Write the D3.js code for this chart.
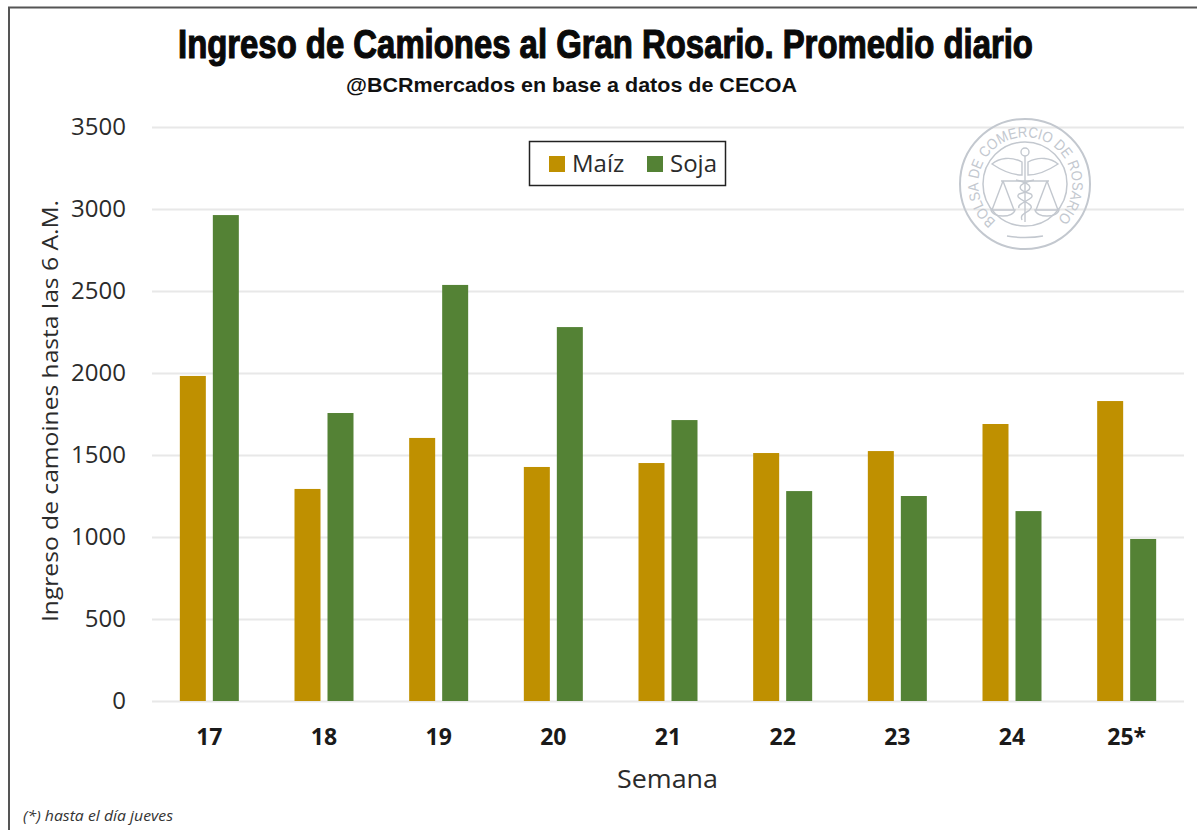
<!DOCTYPE html>
<html>
<head>
<meta charset="utf-8">
<script src="https://cdn.jsdelivr.net/npm/d3@7"></script>
<style>
  html, body { margin: 0; padding: 0; background: #fff; overflow: hidden; }
  svg { display: block; }
</style>
</head>
<body>
<div id="container"></div>
<script>
let semanas = ["17", "18", "19", "20", "21", "22", "23", "24", "25*"];
let maiz = [1982, 1293, 1604, 1427, 1451, 1512, 1524, 1689, 1829];
let soja = [2963, 1756, 2537, 2280, 1713, 1280, 1250, 1158, 988];
let yTicks = [0, 500, 1000, 1500, 2000, 2500, 3000, 3500];
let seriesNames = ["Maíz", "Soja"];
let seriesColors = ["#bf9000", "#548235"];

let w = 1197;
let h = 830;
let textFont = "'Open Sans', 'Noto Sans', sans-serif";
let textColor = "#2b2b2b";

let viz = d3.select("#container")
  .append("svg")
    .attr("width", w)
    .attr("height", h)
;

// outer frame of the pasted picture
viz.append("path")
  .attr("d", "M9,830 V7.5 H1197")
  .attr("fill", "none")
  .attr("stroke", "#555")
  .attr("stroke-width", 2)
;

let xScale = d3.scaleBand().domain(semanas).range([152, 1184]);
let yScale = d3.scaleLinear().domain([0, 3500]).range([701, 127]);

// gridlines come from the y axis, with the domain removed
let yAxis = d3.axisLeft(yScale)
  .tickValues(yTicks)
  .tickFormat(d3.format("d"))
  .tickSize(-(1184 - 152))
  .tickPadding(26)
;
let yAxisGroup = viz.append("g")
    .attr("class", "yaxisgroup")
    .attr("transform", "translate(152,0)")
    .call(yAxis)
;
yAxisGroup.select(".domain").remove();
yAxisGroup.selectAll("line").attr("stroke", "#e8e8e8").attr("stroke-width", 2);
yAxisGroup.selectAll("text")
  .attr("font-family", textFont)
  .attr("font-size", 24)
  .attr("fill", textColor)
;

let xAxis = d3.axisBottom(xScale).tickSize(0).tickPadding(28);
let xAxisGroup = viz.append("g")
    .attr("class", "xaxisgroup")
    .attr("transform", "translate(0,701)")
    .call(xAxis)
;
xAxisGroup.select(".domain").remove();
xAxisGroup.selectAll("text")
  .attr("font-family", textFont)
  .attr("font-size", 23)
  .attr("font-weight", "bold")
  .attr("fill", "#1a1a1a")
;

// logo sits behind the bars
drawSeal(viz.append("g").attr("transform", "translate(1025,184)"));

// two bars per week
let barWidth = 26;
let barOffsets = [-29.5, 3.5];
[maiz, soja].forEach(function(values, s){
  viz.append("g").selectAll("rect").data(values).enter()
    .append("rect")
      .attr("x", function(d, i){ return xScale(semanas[i]) + xScale.bandwidth() / 2 + barOffsets[s]; })
      .attr("y", function(d){ return yScale(d); })
      .attr("width", barWidth)
      .attr("height", function(d){ return yScale(0) - yScale(d); })
      .attr("fill", seriesColors[s])
  ;
});

// titles: the original face is a heavy condensed one, so squeeze a bold sans
let title = viz.append("text")
  .attr("font-family", "'Liberation Sans', sans-serif")
  .attr("font-weight", "bold")
  .attr("font-size", 40)
  .attr("fill", "#0a0a0a")
  .attr("stroke", "#0a0a0a")
  .attr("stroke-width", 1.2)
  .text("Ingreso de Camiones al Gran Rosario. Promedio diario")
;
let titleSquash = 855 / title.node().getComputedTextLength();
title.attr("transform", "translate(178,58) scale(" + titleSquash + ",1)");

viz.append("text")
  .attr("x", 346).attr("y", 92)
  .attr("textLength", 451)
  .attr("lengthAdjust", "spacingAndGlyphs")
  .attr("font-family", "'Liberation Sans', sans-serif")
  .attr("font-weight", "bold")
  .attr("font-size", 21)
  .attr("fill", "#111")
  .text("@BCRmercados en base a datos de CECOA")
;

// axis titles
viz.append("text")
  .attr("transform", "translate(58,622) rotate(-90)")
  .attr("textLength", 422)
  .attr("lengthAdjust", "spacingAndGlyphs")
  .attr("font-family", textFont)
  .attr("font-size", 22)
  .attr("fill", textColor)
  .text("Ingreso de camoines hasta las 6 A.M.")
;
viz.append("text")
  .attr("x", 617).attr("y", 788)
  .attr("textLength", 101)
  .attr("lengthAdjust", "spacingAndGlyphs")
  .attr("font-family", textFont)
  .attr("font-size", 25)
  .attr("fill", textColor)
  .text("Semana")
;
viz.append("text")
  .attr("x", 23).attr("y", 821)
  .attr("textLength", 150)
  .attr("lengthAdjust", "spacingAndGlyphs")
  .attr("font-family", textFont)
  .attr("font-style", "italic")
  .attr("font-size", 14)
  .attr("fill", "#333")
  .text("(*) hasta el día jueves")
;

// legend
let legend = viz.append("g");
legend.append("rect")
  .attr("x", 529.5).attr("y", 141.5)
  .attr("width", 196).attr("height", 44)
  .attr("fill", "#fff")
  .attr("stroke", "#222")
  .attr("stroke-width", 1.5)
;
let legendX = [549, 647];
seriesNames.forEach(function(name, i){
  legend.append("rect")
    .attr("x", legendX[i]).attr("y", 156)
    .attr("width", 16).attr("height", 16)
    .attr("fill", seriesColors[i])
  ;
  legend.append("text")
    .attr("x", legendX[i] + 23).attr("y", 172)
    .attr("font-family", textFont)
    .attr("font-size", 24)
    .attr("fill", textColor)
    .text(name)
  ;
});

// seal of the Bolsa de Comercio, faint grey line drawing
function drawSeal(g){
  let sealColor = "#c3c8cf";
  g.append("circle").attr("r", 65).attr("fill", "none").attr("stroke", sealColor).attr("stroke-width", 2);
  g.append("circle").attr("r", 42).attr("fill", "none").attr("stroke", sealColor).attr("stroke-width", 1.5);
  g.append("defs").append("path")
    .attr("id", "sealArc")
    .attr("d", "M-29,37 A47,47 0 1 1 32,35")
  ;
  g.append("text")
    .attr("font-family", "'Liberation Sans', sans-serif")
    .attr("font-size", 15)
    .attr("fill", sealColor)
    .append("textPath")
      .attr("href", "#sealArc")
      .attr("textLength", 228)
      .attr("lengthAdjust", "spacingAndGlyphs")
      .text("BOLSA DE COMERCIO DE ROSARIO")
  ;
  let lines = [
    // wings
    "M-3,-22 C-14,-28 -26,-26 -33,-20 C-24,-14 -12,-9 -3,-9 Z",
    "M3,-22 C14,-28 26,-26 33,-20 C24,-14 12,-9 3,-9 Z",
    // staff and snake
    "M0,-28 V38",
    "M-9,-4 C9,0 9,6 -6,10 C-12,15 9,19 6,24 C4,29 -6,29 -3,36",
    "M9,-4 C-9,0 -9,6 6,10 C12,15 -9,19 -6,24",
    // beam
    "M-24,-3 H24",
    // left pan
    "M-22,-3 L-33,26 M-22,-3 L-11,26 M-34,26 H-10 C-12,34 -32,34 -34,26 Z",
    // right pan
    "M22,-3 L11,26 M22,-3 L33,26 M10,26 H34 C32,34 12,34 10,26 Z",
    // small bar under the emblem
    "M-18,52 C-8,54 8,54 18,52"
  ];
  g.selectAll("path.seal").data(lines).enter()
    .append("path")
      .attr("class", "seal")
      .attr("d", function(d){ return d; })
      .attr("fill", "none")
      .attr("stroke", sealColor)
      .attr("stroke-width", 1.4)
  ;
  g.append("circle").attr("cy", -32).attr("r", 4).attr("fill", "none").attr("stroke", sealColor).attr("stroke-width", 1.4);
}
</script>
</body>
</html>
